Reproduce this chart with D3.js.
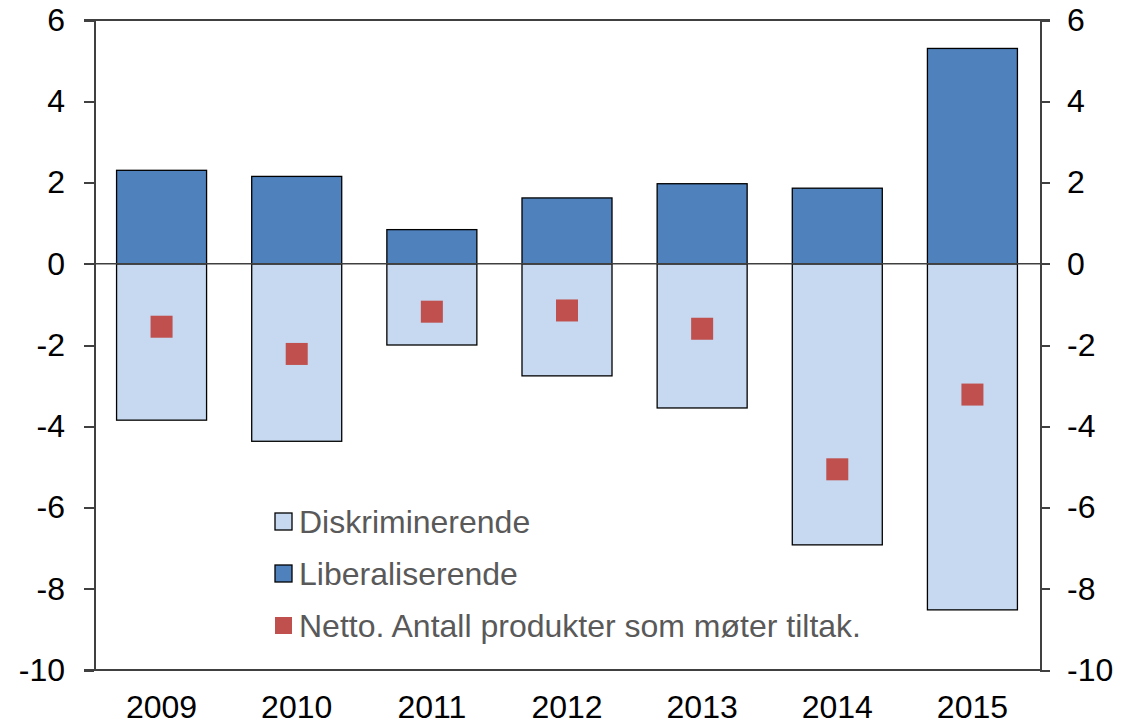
<!DOCTYPE html>
<meta charset="utf-8">
<style>
  body { margin: 0; background: #fff; }
  svg text { font-family: "Liberation Sans", Arial, sans-serif; }
  .axis path, .axis line { stroke: #404040; stroke-width: 2; shape-rendering: crispEdges; }
  .axis text { font-size: 32px; fill: #000; }
</style>
<body>
<svg width="1140" height="724"></svg>
<script src="https://d3js.org/d3.v7.min.js"></script>
<script>
// chart values
var years = ["2009", "2010", "2011", "2012", "2013", "2014", "2015"];
var liberaliserende = [2.3, 2.15, 0.84, 1.62, 1.97, 1.86, 5.3];
var diskriminerende = [-3.85, -4.37, -2.0, -2.76, -3.55, -6.92, -8.52];
var netto = [-1.55, -2.22, -1.18, -1.15, -1.6, -5.06, -3.22];
var yTicks = [-10, -8, -6, -4, -2, 0, 2, 4, 6];
var legendLabels = ["Diskriminerende", "Liberaliserende", "Netto. Antall produkter som møter tiltak."];

var colors = { light: "#c6d9f0", dark: "#4f81bd", red: "#c0504d" };

var margin = { top: 20, right: 100, bottom: 54, left: 94 },
    width = 1140, height = 724;

var svg = d3.select("svg");

var x = d3.scaleBand()
    .domain(years)
    .range([margin.left, width - margin.right])
    .paddingInner(0.334)
    .paddingOuter(0.167);

var y = d3.scaleLinear()
    .domain([-10, 6])
    .range([height - margin.bottom, margin.top]);

// plain hyphen for negatives, as in the original
var fmt = function(d) { return String(d); };

// bars - negative part first
svg.append("g").selectAll("rect")
    .data(years)
  .enter().append("rect")
    .attr("x", function(d) { return x(d); })
    .attr("width", x.bandwidth())
    .attr("y", y(0))
    .attr("height", function(d, i) { return y(diskriminerende[i]) - y(0); })
    .attr("fill", colors.light)
    .attr("stroke", "#000")
    .attr("stroke-width", 1.3);

svg.append("g").selectAll("rect")
    .data(years)
  .enter().append("rect")
    .attr("x", function(d) { return x(d); })
    .attr("width", x.bandwidth())
    .attr("y", function(d, i) { return y(liberaliserende[i]); })
    .attr("height", function(d, i) { return y(0) - y(liberaliserende[i]); })
    .attr("fill", colors.dark)
    .attr("stroke", "#000")
    .attr("stroke-width", 1.3);

// net markers
var ms = 22;
svg.append("g").selectAll("rect")
    .data(years)
  .enter().append("rect")
    .attr("x", function(d) { return x(d) + x.bandwidth() / 2 - ms / 2; })
    .attr("y", function(d, i) { return y(netto[i]) - ms / 2; })
    .attr("width", ms)
    .attr("height", ms)
    .attr("fill", colors.red);

// axes
svg.append("g")
    .attr("class", "axis")
    .attr("transform", "translate(" + margin.left + ",0)")
    .call(d3.axisLeft(y).tickValues(yTicks).tickFormat(fmt).tickSize(10).tickSizeOuter(0).tickPadding(19));

svg.append("g")
    .attr("class", "axis")
    .attr("transform", "translate(" + (width - margin.right) + ",0)")
    .call(d3.axisRight(y).tickValues(yTicks).tickFormat(fmt).tickSize(10).tickSizeOuter(0).tickPadding(17));

var xAxis = svg.append("g")
    .attr("class", "axis")
    .attr("transform", "translate(0," + y(-10) + ")")
    .call(d3.axisBottom(x).tickSize(0).tickPadding(25));
xAxis.select(".domain").remove();

// frame lines: top, zero, bottom
svg.append("line")
    .attr("x1", margin.left - 10).attr("x2", width - margin.right + 10)
    .attr("y1", y(6)).attr("y2", y(6))
    .attr("stroke", "#404040").attr("stroke-width", 2).style("shape-rendering", "crispEdges");
svg.append("line")
    .attr("x1", margin.left - 10).attr("x2", width - margin.right)
    .attr("y1", y(-10)).attr("y2", y(-10))
    .attr("stroke", "#404040").attr("stroke-width", 2).style("shape-rendering", "crispEdges");
svg.append("line")
    .attr("x1", margin.left - 10).attr("x2", width - margin.right + 10)
    .attr("y1", y(0)).attr("y2", y(0))
    .attr("stroke", "#404040").attr("stroke-width", 1.5);

// legend
var legend = svg.append("g").attr("transform", "translate(275,521)");
var legendFill = [colors.light, colors.dark, colors.red];
var item = legend.selectAll("g")
    .data(legendLabels)
  .enter().append("g")
    .attr("transform", function(d, i) { return "translate(0," + i * 52 + ")"; });
item.append("rect")
    .attr("x", 0).attr("y", -8)
    .attr("width", 17).attr("height", 17)
    .attr("fill", function(d, i) { return legendFill[i]; })
    .attr("stroke", function(d, i) { return i < 2 ? "#000" : "none"; })
    .attr("stroke-width", 1.3);
item.append("text")
    .attr("x", 24)
    .attr("dy", "0.36em")
    .style("font-size", "32px")
    .style("fill", "#595959")
    .text(function(d) { return d; });
</script>
</body>
